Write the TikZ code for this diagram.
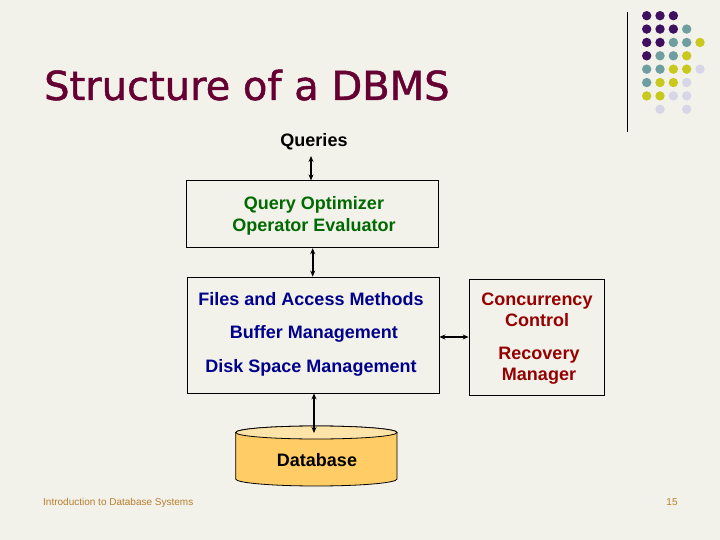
\documentclass[tikz,border=0pt]{standalone}
\usepackage{fontspec}
\setmainfont{Liberation Sans}
\newfontfamily\titlefont[FakeBold=1.2]{DejaVu Sans}
\usetikzlibrary{arrows.meta}
\definecolor{bgc}{RGB}{242,242,234}
\definecolor{titlec}{RGB}{102,0,51}
\definecolor{greenc}{RGB}{0,105,0}
\definecolor{bluec}{RGB}{0,0,140}
\definecolor{redc}{RGB}{150,0,0}
\definecolor{footc}{RGB}{185,125,45}
\definecolor{dpur}{RGB}{64,16,96}
\definecolor{dteal}{RGB}{110,158,160}
\definecolor{dyel}{RGB}{200,200,30}
\definecolor{dlav}{RGB}{214,214,232}
\definecolor{dbtop}{RGB}{255,228,170}
\definecolor{dbbody}{RGB}{255,204,102}
\begin{document}
\begin{tikzpicture}[x=1pt,y=-1pt,
  boxst/.style={draw=black,line width=0.8pt,rectangle,inner sep=0pt},
  lbl/.style={anchor=base,inner sep=0pt,font=\fontsize{18}{20}\selectfont\bfseries},
  dbl/.style={{Stealth[length=6pt,width=5pt]}-{Stealth[length=6pt,width=5pt]},line width=1.6pt},
  dot/.style={circle,inner sep=0pt,minimum size=9.4pt}]
\fill[bgc] (0,0) rectangle (720,540);
\useasboundingbox (0,0) rectangle (720,540);
% decorative line and dots
\draw[black,line width=0.8pt] (627,12) -- (627,132);
\foreach \r/\row in {0/{dpur,dpur,dpur,none,none},1/{dpur,dpur,dpur,dteal,none},2/{dpur,dpur,dteal,dteal,dyel},3/{dpur,dteal,dteal,dyel,none},4/{dteal,dteal,dyel,dyel,dlav},5/{dteal,dyel,dyel,dlav,none},6/{dyel,dyel,dlav,dlav,none},7/{none,dlav,none,dlav,none}}{
  \foreach \c [count=\i from 0] in \row {
    \pgfmathsetmacro{\xx}{646.7+13.33*\i}
    \pgfmathsetmacro{\yy}{15.7+13.37*\r}
    \def\none{none}
    \ifx\c\none\else
      \node[dot,fill=\c] (d\r\i) at (\xx,\yy) {};
    \fi
  }
}
% title
\node[anchor=base west,inner sep=0pt,text=titlec,font=\titlefont\fontsize{40}{44}\selectfont] (title) at (44,100) {Structure of a DBMS};
% queries
\node[lbl] (queries) at (314,147) {Queries};
\coordinate (qa) at (311,156);
% boxes
\node[boxst,minimum width=252pt,minimum height=67pt] (box1) at (312,214.3) {};
\node[lbl,text=greenc] (qo) at (314,210) {Query Optimizer};
\node[lbl,text=greenc] (oe) at (314,231) {Operator Evaluator};
\node[boxst,minimum width=252pt,minimum height=116pt] (box2) at (313,335) {};
\node[lbl,text=bluec] (fam) at (311,305) {Files and Access Methods};
\node[lbl,text=bluec] (bm) at (314,338) {Buffer Management};
\node[lbl,text=bluec] (dsm) at (311,372) {Disk Space Management};
\node[boxst,minimum width=135pt,minimum height=116pt] (box3) at (536.5,337) {};
\node[lbl,text=redc] (cc1) at (537,305) {Concurrency};
\node[lbl,text=redc] (cc2) at (537,326) {Control};
\node[lbl,text=redc] (rm1) at (539,359) {Recovery};
\node[lbl,text=redc] (rm2) at (539,380) {Manager};
% database cylinder
\fill[dbbody,draw=black,line width=0.8pt] (235.7,432.5) -- (235.7,479) arc[start angle=180,end angle=0,x radius=80.65,y radius=7] -- (397,432.5) arc[start angle=0,end angle=-180,x radius=80.65,y radius=6.5] -- cycle;
\fill[dbtop,draw=black,line width=0.8pt] (316.35,432.5) ellipse[x radius=80.65,y radius=6.5];
\node[lbl] (db) at (317,466) {Database};
\coordinate (dbt) at (314,433);
% connectors
\draw[dbl] (qa) -- (qa |- box1.north);
\draw[dbl] (box1.south -| 312.7,0) -- (box2.north -| 312.7,0);
\draw[dbl] (box2.east |- 0,337) -- (box3.west |- 0,337);
\draw[dbl] (box2.south -| dbt) -- (dbt);
% footer
\node[anchor=base west,inner sep=0pt,text=footc,font=\fontsize{10}{11}\selectfont] (foot) at (43,505) {Introduction to Database Systems};
\node[anchor=base,inner sep=0pt,text=footc,font=\fontsize{10}{11}\selectfont] (pg) at (672,505) {15};
\end{tikzpicture}
\end{document}
